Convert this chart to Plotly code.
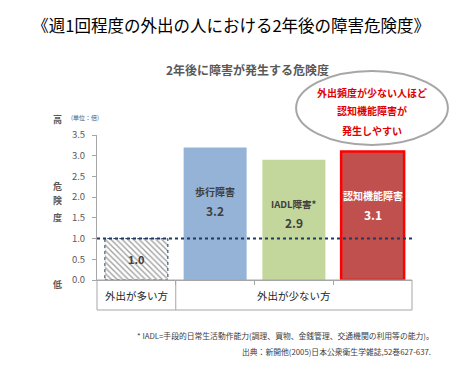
import plotly.graph_objects as go

# ---- data ----
bar_names = ["", "歩行障害", "IADL障害*", "認知機能障害"]
risk_values = [1.0, 3.2, 2.9, 3.1]
group_labels = ["外出が多い方", "外出が少ない方"]
group_sizes = [1, 3]
y_ticks = [0.0, 0.5, 1.0, 1.5, 2.0, 2.5, 3.0, 3.5]
callout_lines = ["外出頻度が少ない人ほど", "認知機能障害が", "発生しやすい"]
title_text = "《週1回程度の外出の人における2年後の障害危険度》"
subtitle_text = "2年後に障害が発生する危険度"
footnotes = ["* IADL=手段的日常生活動作能力(調理、買物、金銭管理、交通機関の利用等の能力)。",
             "出典：新開他(2005)日本公衆衛生学雑誌,52巻627-637."]

FONT = "Noto Sans CJK JP"
bar_colors = ["#FFFFFF", "#95B3D7", "#C3D69B", "#C0504D"]
label_colors = ["#404040", "#404040", "#404040", "#FFFFFF"]
BW = 0.8
xs = list(range(len(risk_values)))
baseline = risk_values[0]

fig = go.Figure()
fig.add_trace(go.Bar(
    x=xs, y=risk_values, width=BW,
    marker=dict(
        color=bar_colors,
        line=dict(color=["rgba(0,0,0,0)", "rgba(0,0,0,0)", "rgba(0,0,0,0)", "#FF0000"],
                  width=[0, 0, 0, 2.5]),
        pattern=dict(shape=["\\", "", "", ""], fgcolor="#7F9CC4", bgcolor="#FFFFFF",
                     size=4, solidity=0.35),
    ),
    hoverinfo="skip", showlegend=False,
))

shapes = []
# dotted border of the reference bar
shapes.append(dict(type="rect", xref="x", yref="y",
                   x0=xs[0] - BW / 2, x1=xs[0] + BW / 2, y0=0, y1=risk_values[0],
                   line=dict(color="#1F3864", width=1, dash="dot"), layer="above"))
# reference line at baseline
shapes.append(dict(type="line", xref="paper", yref="y", x0=0, x1=1.003,
                   y0=baseline, y1=baseline,
                   line=dict(color="#1F3864", width=2, dash="dot"), layer="above"))
# table below the axis
TB = -0.207
shapes.append(dict(type="rect", xref="paper", yref="paper", x0=0, x1=1, y0=TB, y1=0,
                   line=dict(color="#A6A6A6", width=1)))
n = len(risk_values)
start = 0
for s in group_sizes[:-1]:
    start += s
    shapes.append(dict(type="line", xref="paper", yref="paper", x0=start / n, x1=start / n,
                       y0=TB, y1=0, line=dict(color="#A6A6A6", width=1)))
# callout ellipse
shapes.append(dict(type="circle", xref="paper", yref="paper",
                   x0=0.632, x1=1.114, y0=0.931, y1=1.441,
                   line=dict(color="#A6A6A6", width=2), fillcolor="#FFFFFF"))


def A(**kw):
    kw.setdefault("xanchor", "center")
    kw.setdefault("yanchor", "middle")
    kw.setdefault("showarrow", False)
    return kw


ann = []
# bar labels
for i, (nm, v) in enumerate(zip(bar_names, risk_values)):
    if i == 0:
        ann.append(A(x=xs[i], y=v / 2, xref="x", yref="y", text=f"<b>{v:.1f}</b>",
                     font=dict(family=FONT, size=11, color="#404040")))
    else:
        fs = 9.5 if nm.startswith("IADL") else 10
        ann.append(A(x=xs[i], y=v, xref="x", yref="y", yshift=-44, text=f"<b>{nm}</b>",
                     font=dict(family=FONT, size=fs, color=label_colors[i])))
        ann.append(A(x=xs[i], y=v, xref="x", yref="y", yshift=-63, text=f"<b>{v:.1f}</b>",
                     font=dict(family=FONT, size=12, color=label_colors[i])))
# group labels in table
start = 0
for g, s in zip(group_labels, group_sizes):
    ann.append(A(x=(start + s / 2) / n, y=TB / 2, xref="paper", yref="paper", text=g,
                 font=dict(family=FONT, size=10.5, color="#262626")))
    start += s
# callout text
for t, yy in zip(callout_lines, [1.290, 1.166, 1.028]):
    ann.append(A(x=0.873, y=yy, xref="paper", yref="paper", text=f"<b>{t}</b>",
                 font=dict(family=FONT, size=10, color="#E00000")))
# subtitle
ann.append(A(x=0.479, y=1.455, xref="paper", yref="paper", text=f"<b>{subtitle_text}</b>",
             font=dict(family=FONT, size=12, color="#595959")))
# left side labels
for t, yy in [("高", 1.110), ("危", 0.648), ("険", 0.545), ("度", 0.434), ("低", -0.028)]:
    ann.append(A(x=-0.124, y=yy, xref="paper", yref="paper", text=f"<b>{t}</b>",
                 font=dict(family=FONT, size=9, color="#595959")))
ann.append(A(x=-0.038, y=1.12, xref="paper", yref="paper", text="(単位：倍)",
             font=dict(family=FONT, size=6, color="#595959")))
# footnotes
for t, yy, xx in zip(footnotes, [-0.386, -0.490], [1.076, 1.067]):
    ann.append(A(x=xx, y=yy, xref="paper", yref="paper", text=t, xanchor="right",
                 font=dict(family=FONT, size=7.8, color="#404040")))

fig.update_layout(
    width=465, height=371,
    margin=dict(l=89, r=61, t=127, b=99, pad=0),
    paper_bgcolor="white", plot_bgcolor="white",
    title=dict(text=title_text, x=0.48, xanchor="center", y=0.951, yanchor="middle",
               font=dict(family=FONT, size=16.5, color="#000000")),
    xaxis=dict(range=[-0.5, n - 0.5], showgrid=False, zeroline=False,
               showline=True, linecolor="#A6A6A6", linewidth=1,
               tickvals=[i + 0.5 for i in xs[:-1]], ticks="outside", ticklen=4,
               tickcolor="#A6A6A6", showticklabels=False, fixedrange=True),
    yaxis=dict(range=[0, 3.5], tickvals=y_ticks, ticktext=[f"{v:.1f}" for v in y_ticks],
               showgrid=False, zeroline=False, showline=True, linecolor="#A6A6A6",
               linewidth=1, ticks="outside", ticklen=4, tickcolor="#A6A6A6",
               ticklabelstandoff=5,
               tickfont=dict(family=FONT, size=9.5, color="#595959"), fixedrange=True),
    shapes=shapes, annotations=ann,
    font=dict(family=FONT),
)

fig.write_html("out.html")
